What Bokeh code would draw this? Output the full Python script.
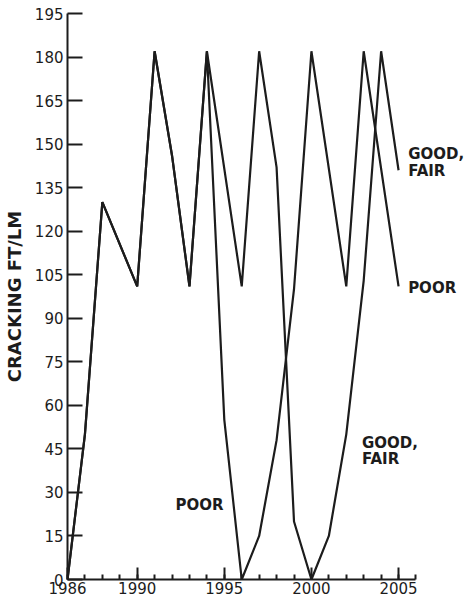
from bokeh.plotting import figure
from bokeh.models import Range1d, FixedTicker, ColumnDataSource
from bokeh.core.properties import value
from bokeh.embed import file_html
from bokeh.resources import INLINE

# ---- data ----
years_poor = [1986, 1987, 1988, 1990, 1991, 1992, 1993, 1994, 1995, 1996,
              1997, 1998, 1999, 2000, 2002, 2003, 2005]
cracking_poor = [0, 50, 130, 101, 182, 146, 101, 182, 55, 0,
                 15, 48, 100, 182, 101, 182, 101]

years_good_fair = [1986, 1987, 1988, 1990, 1991, 1992, 1993, 1994, 1996, 1997,
                   1998, 1999, 2000, 2001, 2002, 2003, 2004, 2005]
cracking_good_fair = [0, 50, 130, 101, 182, 146, 101, 182, 101, 182,
                      142, 20, 0, 15, 50, 103, 182, 141]

x_ticks = [1986, 1990, 1995, 2000, 2005]
x_minor_ticks = list(range(1986, 2007))
y_ticks = list(range(0, 196, 15))

# annotation texts (label, x, y in data units)
label_text = ["GOOD,", "FAIR", "POOR", "POOR", "GOOD,", "FAIR"]
label_x = [2005.55, 2005.55, 2005.55, 1992.2, 2002.9, 2002.9]
label_y = [146.7, 140.8, 100.6, 25.5, 46.9, 41.4]

INK = "#1c1c1c"
FONT = "DejaVu Sans"

p = figure(width=466, height=596, output_backend="svg", toolbar_location=None,
           x_range=Range1d(1986, 2008.9), y_range=Range1d(0, 195),
           min_border_left=64, min_border_right=0, min_border_top=13,
           min_border_bottom=17)
p.outline_line_color = None
p.grid.visible = False
p.background_fill_color = "white"
p.border_fill_color = "white"

p.line(years_poor, cracking_poor, line_color=INK, line_width=2.2)
p.line(years_good_fair, cracking_good_fair, line_color=INK, line_width=2.2)

src = ColumnDataSource(dict(x=label_x, y=label_y, text=label_text))
p.text(x="x", y="y", text="text", source=src, text_font=value(FONT),
       text_font_style="bold", text_font_size="15px", text_color=INK,
       text_align="left", text_baseline="middle")

# x axis
xa = p.xaxis[0]
xa.bounds = (1986, 2006)
xa.ticker = FixedTicker(ticks=x_ticks, minor_ticks=x_minor_ticks)
xa.axis_line_color = INK
xa.axis_line_width = 2
xa.major_tick_line_color = INK
xa.major_tick_line_width = 2
xa.major_tick_in = 12
xa.major_tick_out = 0
xa.minor_tick_line_color = INK
xa.minor_tick_line_width = 2
xa.minor_tick_in = 5
xa.minor_tick_out = 0
xa.major_label_standoff = 2
xa.major_label_text_font = FONT
xa.major_label_text_font_size = "15px"
xa.major_label_text_color = INK

# y axis
ya = p.yaxis[0]
ya.ticker = FixedTicker(ticks=y_ticks, minor_ticks=[])
ya.axis_line_color = INK
ya.axis_line_width = 2
ya.major_tick_line_color = INK
ya.major_tick_line_width = 2
ya.major_tick_in = 15
ya.major_tick_out = 0
ya.minor_tick_line_color = None
ya.major_label_standoff = 4
ya.major_label_text_font = FONT
ya.major_label_text_font_size = "15px"
ya.major_label_text_color = INK
ya.axis_label = "CRACKING FT/LM"
ya.axis_label_text_font = FONT
ya.axis_label_text_font_style = "bold"
ya.axis_label_text_font_size = "18px"
ya.axis_label_text_color = INK
ya.axis_label_standoff = 7

open("out.html", "w").write(file_html(p, INLINE))
